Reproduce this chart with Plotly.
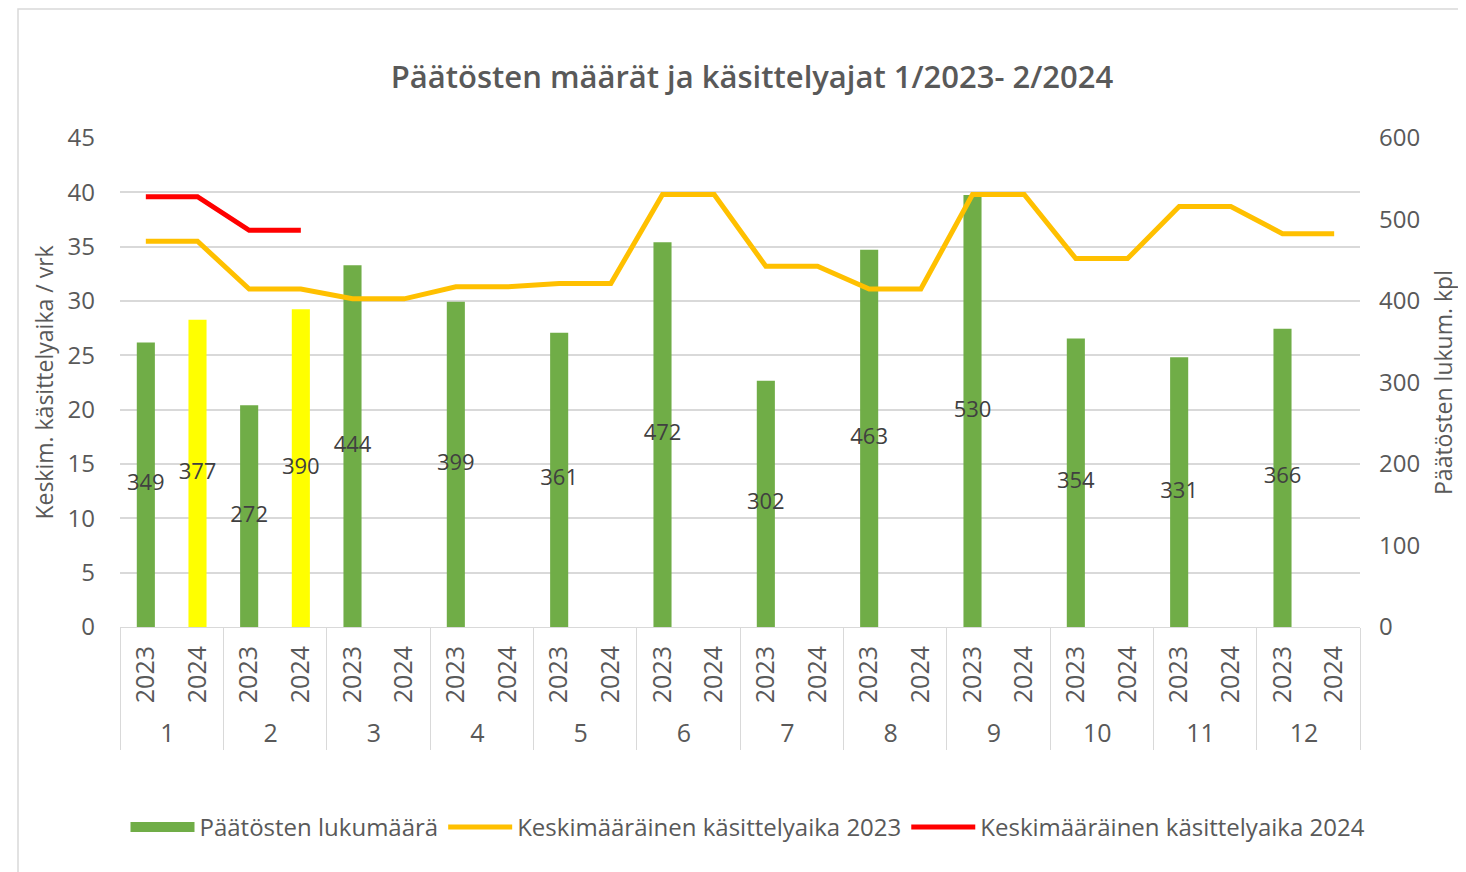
import plotly.graph_objects as go

months = [str(m) for m in range(1, 13)]
years = ["2023", "2024"]
counts_2023 = [349, 272, 444, 399, 361, 472, 302, 463, 530, 354, 331, 366]
counts_2024 = [377, 390, None, None, None, None, None, None, None, None, None, None]
avg_time_2023 = [35.5, 31.1, 30.2, 31.3, 31.6, 39.8, 33.2, 31.1, 39.8, 33.9, 38.7, 36.2]
avg_time_2024 = [39.6, 36.5, None, None, None, None, None, None, None, None, None, None]

GREEN = "#70AD47"
YELLOW = "#FFFF00"
ORANGE = "#FFC000"
RED = "#FF0000"
GRAY = "#595959"
GRID = "#D9D9D9"
FONT = "Open Sans"

# multicategory x (month, year)
x_month, x_year, bar_vals, bar_cols, line23, line24 = [], [], [], [], [], []
for i, m in enumerate(months):
    for y in years:
        x_month.append(m)
        x_year.append(y)
        if y == "2023":
            bar_vals.append(counts_2023[i])
            bar_cols.append(GREEN)
        else:
            bar_vals.append(counts_2024[i])
            bar_cols.append(YELLOW)
        line23.append(avg_time_2023[i])
        line24.append(avg_time_2024[i])

lab_x_m = [m for m, v in zip(x_month, bar_vals) if v is not None]
lab_x_y = [y for y, v in zip(x_year, bar_vals) if v is not None]
lab_v = [v for v in bar_vals if v is not None]

fig = go.Figure()
fig.add_trace(go.Bar(
    x=[x_month, x_year], y=bar_vals, name="Päätösten lukumäärä",
    marker=dict(color=bar_cols, line=dict(width=0)), width=0.35, yaxis="y",
    showlegend=False,
))
# legend proxy for the bar series (wide rectangle like the original)
fig.add_trace(go.Scatter(
    x=[[None], [None]], y=[None], name="Päätösten lukumäärä", mode="lines",
    line=dict(color=GREEN, width=14), yaxis="y", hoverinfo="skip",
))
fig.add_trace(go.Scatter(
    x=[lab_x_m, lab_x_y], y=[v / 2 for v in lab_v], mode="text",
    text=[str(v) for v in lab_v], textfont=dict(family=FONT, size=22, color="#404040"),
    showlegend=False, hoverinfo="skip", yaxis="y",
))
fig.add_trace(go.Scatter(
    x=[x_month, x_year], y=line23, name="Keskimääräinen käsittelyaika 2023",
    mode="lines", line=dict(color=ORANGE, width=5), yaxis="y2",
))
fig.add_trace(go.Scatter(
    x=[x_month, x_year], y=line24, name="Keskimääräinen käsittelyaika 2024",
    mode="lines", line=dict(color=RED, width=5), yaxis="y2", connectgaps=False,
))

W, H = 1458, 864  # page body has an 8px margin
fig.update_layout(
    width=W, height=H,
    margin=dict(l=112, r=106, t=130, b=245, autoexpand=False),
    paper_bgcolor="white", plot_bgcolor="white",
    font=dict(family=FONT, size=24, color=GRAY),
    title=dict(text="Päätösten määrät ja käsittelyajat 1/2023- 2/2024",
               x=(752 - 8) / W, xanchor="center", y=1 - 69 / H, yanchor="middle",
               font=dict(family=FONT, size=31, color=GRAY, weight=600), automargin=False),
    xaxis=dict(type="multicategory", range=[-0.5, 23.5], showline=True, linecolor=GRID, linewidth=1,
               showdividers=True, dividercolor=GRID, dividerwidth=1, automargin=False,
               ticklabelstandoff=8,
               tickangle=-90, tickfont=dict(size=25, color=GRAY), showgrid=False),
    yaxis=dict(side="right", range=[0, 600], dtick=100, showgrid=False, zeroline=False,
               tickfont=dict(size=24, color=GRAY), ticklabelstandoff=18, automargin=False,
               title=dict(text="Päätösten lukum. kpl", font=dict(size=23, color=GRAY), standoff=16)),
    yaxis2=dict(overlaying="y", side="left", range=[0, 45], dtick=5, showgrid=True,
                gridcolor=GRID, gridwidth=1.5, zeroline=False, automargin=False,
                tickfont=dict(size=24, color=GRAY), ticklabelstandoff=24,
                title=dict(text="Keskim. käsittelyaika / vrk", font=dict(size=23, color=GRAY), standoff=7)),
    legend=dict(orientation="h", x=(748 - 120) / 1240, xanchor="center", y=-0.41, yanchor="middle",
                font=dict(size=24, color=GRAY), itemwidth=64, bgcolor="rgba(0,0,0,0)"),
    shapes=[dict(type="rect", xref="paper", yref="paper",
                 x0=-102 / 1240, x1=1.2, y0=-0.6, y1=(627 - 9) / 489,
                 line=dict(color=GRID, width=1.5), fillcolor="rgba(0,0,0,0)", layer="below")],
)

fig.write_html("out.html")
